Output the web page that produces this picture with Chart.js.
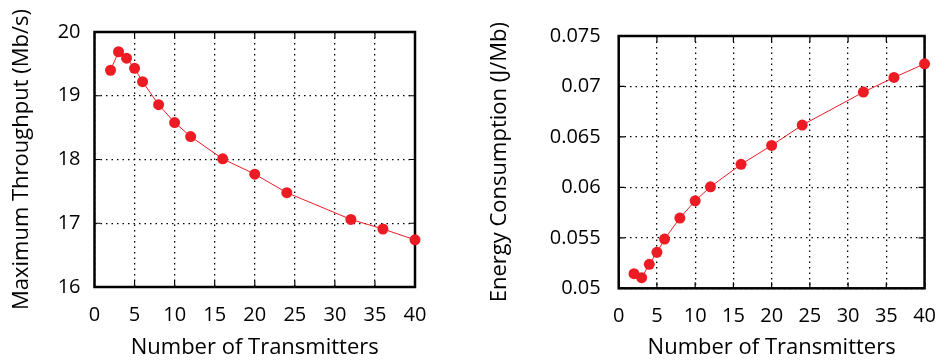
<!DOCTYPE html>
<html>
<head>
<meta charset="utf-8">
<script src="https://cdn.jsdelivr.net/npm/chart.js@4.4.1/dist/chart.umd.min.js"></script>
<style>
  html, body { margin: 0; padding: 0; background: #fff; }
  body { width: 952px; height: 362px; position: relative; overflow: hidden; }
  canvas { position: absolute; top: 0; }
</style>
</head>
<body>
<canvas id="c1" width="476" height="362" style="left:0px"></canvas>
<canvas id="c2" width="476" height="362" style="left:476px"></canvas>
<script>
// ---- data ----
const transmitters = [2, 3, 4, 5, 6, 8, 10, 12, 16, 20, 24, 32, 36, 40];
const throughput = [19.40, 19.69, 19.59, 19.43, 19.22, 18.86, 18.58, 18.36, 18.01, 17.77, 17.48, 17.06, 16.91, 16.74];
const energy = [0.05145, 0.05105, 0.05238, 0.05356, 0.05488, 0.05696, 0.05867, 0.06006, 0.06228, 0.06416, 0.06617, 0.06944, 0.07089, 0.07224];
const xTicks = [0, 5, 10, 15, 20, 25, 30, 35, 40];
const throughputTicks = [16, 17, 18, 19, 20];
const energyTicks = [0.05, 0.055, 0.06, 0.065, 0.07, 0.075];
const xTitle = 'Number of Transmitters';
const throughputTitle = 'Maximum Throughput (Mb/s)';
const energyTitle = 'Energy Consumption (J/Mb)';

const RED = 'rgb(237,28,36)';
const FONT = "'Open Sans', 'DejaVu Sans', sans-serif";

const framePlugin = {
  id: 'frame',
  beforeDatasetsDraw(chart) {
    const { ctx, chartArea: a, scales } = chart;
    ctx.save();
    ctx.strokeStyle = '#000';
    ctx.lineWidth = 1.2;
    ctx.setLineDash([]);
    const tl = 6;
    scales.x.ticks.forEach(t => {
      const px = scales.x.getPixelForValue(t.value);
      ctx.beginPath();
      ctx.moveTo(px, a.bottom); ctx.lineTo(px, a.bottom - tl);
      ctx.moveTo(px, a.top); ctx.lineTo(px, a.top + tl);
      ctx.stroke();
    });
    scales.y.ticks.forEach(t => {
      const py = scales.y.getPixelForValue(t.value);
      ctx.beginPath();
      ctx.moveTo(a.left, py); ctx.lineTo(a.left + tl, py);
      ctx.moveTo(a.right, py); ctx.lineTo(a.right - tl, py);
      ctx.stroke();
    });
    ctx.lineWidth = 2.5;
    ctx.strokeRect(a.left, a.top, a.right - a.left, a.bottom - a.top);
    ctx.restore();
  }
};

function makeChart(id, yValues, yTicks, yTitle, opts) {
  const pts = transmitters.map((x, i) => ({ x: x, y: yValues[i] }));
  return new Chart(document.getElementById(id), {
    type: 'scatter',
    data: {
      datasets: [{
        data: pts,
        showLine: true,
        borderColor: RED,
        borderWidth: 1,
        backgroundColor: RED,
        pointBackgroundColor: RED,
        pointBorderColor: RED,
        pointRadius: 5.5,
        pointBorderWidth: 0,
        clip: false
      }]
    },
    options: {
      responsive: false,
      animation: false,
      events: [],
      layout: { padding: { top: opts.top, right: opts.right, left: 0, bottom: 0 } },
      plugins: { legend: { display: false }, tooltip: { enabled: false } },
      scales: {
        x: {
          type: 'linear',
          min: 0, max: 40,
          afterBuildTicks(axis) { axis.ticks = xTicks.map(v => ({ value: v })); },
          afterFit(axis) { axis.height = opts.xh; },
          grid: { color: '#000', lineWidth: 1.3, drawTicks: false, tickLength: 0 },
          border: { display: false, dash: [1.5, 4] },
          ticks: { color: '#000', font: { family: FONT, size: 20 }, padding: 16, maxRotation: 0,
                   callback: v => String(v) },
          title: { display: true, text: xTitle, color: '#000', font: { family: FONT, size: 22 }, padding: { top: 0, bottom: opts.xtb } }
        },
        y: {
          type: 'linear',
          min: yTicks[0], max: yTicks[yTicks.length - 1],
          afterBuildTicks(axis) { axis.ticks = yTicks.map(v => ({ value: v })); },
          afterFit(axis) { axis.width = opts.yw; },
          grid: { color: '#000', lineWidth: 1.3, drawTicks: false, tickLength: 0 },
          border: { display: false, dash: [1.5, 4] },
          ticks: { color: '#000', font: { family: FONT, size: 20 }, padding: opts.ytp,
                   callback: v => String(v) },
          title: { display: true, text: yTitle, color: '#000', font: { family: FONT, size: 22 }, padding: { top: opts.ytt, bottom: 0 } }
        }
      }
    },
    plugins: [framePlugin]
  });
}

makeChart('c1', throughput, throughputTicks, throughputTitle,
  { top: 32, right: 61, xh: 75, yw: 94.5, ytp: 14, ytt: 9, xtb: 1 });
makeChart('c2', energy, energyTicks, energyTitle,
  { top: 36, right: 18.7, xh: 73.7, yw: 142.7, ytp: 18, ytt: 11, xtb: 1 });
</script>
</body>
</html>
